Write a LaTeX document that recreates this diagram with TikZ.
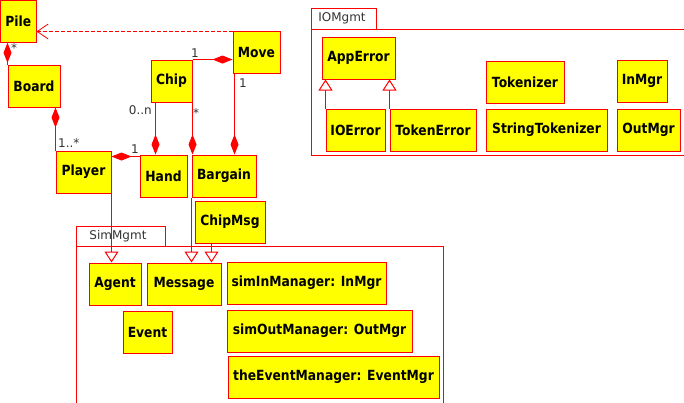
\documentclass[tikz,border=0pt]{standalone}
\usepackage{fontspec}
\setmainfont{DejaVu Sans}
\newfontfamily\boxfont{DejaVu Sans}[FakeStretch=0.88]
\usetikzlibrary{arrows.meta}
\definecolor{umlred}{HTML}{FF0000}
\definecolor{umlyel}{HTML}{FFFF00}
\definecolor{lblgray}{HTML}{333333}
\begin{document}
\begin{tikzpicture}[x=1pt,y=-1pt,
  umlbox/.style={draw=umlred,fill=umlyel,line width=1pt,inner sep=0pt,
    minimum height=42pt,font=\boxfont\fontsize{14}{16}\selectfont\bfseries},
  pkg/.style={draw=umlred,line width=1pt},
  lbl/.style={text=lblgray,inner sep=0pt,font=\fontsize{12}{14}\selectfont},
  comp/.style={draw=umlred,line width=1pt,-{Diamond[length=20pt,width=8pt,fill=umlred]}},
  gen/.style={draw=umlred,line width=1pt,-{Triangle[open,length=11pt,width=14pt,fill=white]}},
  dep/.style={draw=umlred,line width=0.8pt,dash pattern=on 4pt off 2pt,-{Straight Barb[length=11pt,width=15pt]}}
]
\useasboundingbox (0,0) rectangle (684,402);
\clip (0,0) rectangle (684,402);
\fill[white] (0,0) rectangle (684,402);

% packages
\draw[pkg] (311,8) rectangle (376,29);
\draw[pkg] (311,29) rectangle (700,155);
\node[lbl] (iomgmt) at (342,18.5) {IOMgmt};
\draw[pkg] (76,226) rectangle (165,246);
\draw[pkg] (76,246) rectangle (443,420);
\node[lbl] (simmgmt) at (118,236.5) {SimMgmt};

% classes
\node[umlbox,minimum width=35.5pt] (pile) at (18.25,21.25) {Pile};
\node[umlbox,minimum width=52pt] (board) at (34,86) {Board};
\node[umlbox,minimum width=41pt] (chip) at (171.5,81) {Chip};
\node[umlbox,minimum width=47pt] (move) at (256.5,52) {Move};
\node[umlbox,minimum width=55pt] (player) at (83.5,172) {Player};
\node[umlbox,minimum width=47pt] (hand) at (163.5,176) {Hand};
\node[umlbox,minimum width=64pt] (bargain) at (224,176) {Bargain};

\node[umlbox,minimum width=73pt] (apperror) at (358.5,58) {AppError};
\node[umlbox,minimum width=59pt] (ioerror) at (355.5,130) {IOError};
\node[umlbox,minimum width=86pt] (tokenerror) at (433,130) {TokenError};
\node[umlbox,minimum width=78pt] (tokenizer) at (525,82) {Tokenizer};
\node[umlbox,minimum width=121pt] (stringtok) at (546.5,130) {StringTokenizer};
\node[umlbox,minimum width=50pt] (inmgr) at (642,81) {InMgr};
\node[umlbox,minimum width=63pt] (outmgr) at (648.5,130) {OutMgr};

\node[umlbox,minimum width=70pt] (chipmsg) at (230,222) {ChipMsg};
\node[umlbox,minimum width=52pt] (agent) at (115,284) {Agent};
\node[umlbox,minimum width=74pt] (message) at (184,284) {Message};
\node[umlbox,minimum width=49pt] (event) at (147.5,332) {Event};
\node[umlbox,minimum width=159pt] (simin) at (306.5,283) {simInManager: InMgr};
\node[umlbox,minimum width=185pt] (simout) at (319.5,331) {simOutManager: OutMgr};
\node[umlbox,minimum width=211pt] (theevent) at (333.5,377) {theEventManager: EventMgr};

% connectors
\draw[dep] ([yshift=-1pt]move.north west) -- ([yshift=-1pt]move.north west -| pile.east);
\draw[comp] (board.north west) -- (board.north west |- pile.south);
\draw[comp] (player.north west) -- (player.north west |- board.south);
\draw[comp] ([yshift=-2pt]hand.north west) -- ([yshift=-2pt]hand.north west -| player.east);
\draw[comp] (chip.north east) -- (chip.north east -| move.west);
\draw[comp] ([xshift=5pt]chip.south west) -- ([xshift=5pt]chip.south west |- hand.north);
\draw[comp] (chip.south east) -- (chip.south east |- bargain.north);
\draw[comp] ([xshift=2pt]move.south west) -- ([xshift=2pt]move.south west |- bargain.north);

\draw[gen] (player.south east) -- (player.south east |- agent.north);
\draw[gen] (bargain.south west) -- (bargain.south west |- message.north);
\draw[gen] ([xshift=17pt]chipmsg.south west) -- ([xshift=17pt]chipmsg.south west |- message.north);
\draw[gen] (ioerror.north west) -- (ioerror.north west |- apperror.south);
\draw[gen] (tokenerror.north west) -- (tokenerror.north west |- apperror.south);

% multiplicities
\node[lbl,anchor=west] (m1) at (11,48) {*};
\node[lbl,anchor=west] (m2) at (58,143.5) {1..*};
\node[lbl,anchor=west] (m3) at (131,149) {1};
\node[lbl,anchor=west] (m4) at (191,53) {1};
\node[lbl,anchor=east] (m5) at (152,110) {0..n};
\node[lbl,anchor=west] (m6) at (193,113) {*};
\node[lbl,anchor=west] (m7) at (239,83) {1};
\end{tikzpicture}
\end{document}
